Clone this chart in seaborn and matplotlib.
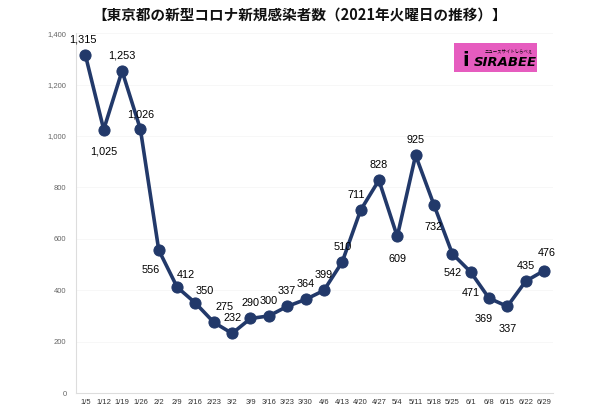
import numpy as np
import pandas as pd
import seaborn as sns
import matplotlib.pyplot as plt
from matplotlib.patches import Rectangle

# data
dates = ["1/5", "1/12", "1/19", "1/26", "2/2", "2/9", "2/16", "2/23", "3/2",
         "3/9", "3/16", "3/23", "3/30", "4/6", "4/13", "4/20", "4/27", "5/4",
         "5/11", "5/18", "5/25", "6/1", "6/8", "6/15", "6/22", "6/29"]
cases = [1315, 1025, 1253, 1026, 556, 412, 350, 275, 232,
         290, 300, 337, 364, 399, 510, 711, 828, 609,
         925, 732, 542, 471, 369, 337, 435, 476]
# label placement (offset in points) for each point
label_pos = [(-2, 11), (0, -16), (0, 11), (0, 11), (-6, -14), (6, 9), (7, 9), (8, 11), (0, 11),
             (0, 11), (0, 11), (0, 11), (0, 11), (0, 11), (0, 11), (-3, 11), (0, 11), (0, -16),
             (0, 11), (0, -16), (0, -14), (0, -15), (-4, -15), (0, -16), (0, 11), (2, 13)]

sns.set_style("white")
plt.rcParams['font.family'] = ['Noto Sans CJK JP', 'DejaVu Sans']

df = pd.DataFrame({"idx": np.arange(len(dates)), "cases": cases})

fig = plt.figure(figsize=(6, 4.09), dpi=100)
ax = fig.add_axes([0.127, 0.039, 0.795, 0.880])

navy = "#22396a"
sns.lineplot(data=df, x="idx", y="cases", ax=ax, color=navy, linewidth=2.6,
             marker="o", markersize=8, markeredgecolor=navy, markerfacecolor=navy)

for i, v in enumerate(cases):
    dx, dy = label_pos[i]
    ax.annotate(f"{v:,}", (i, v), xytext=(dx, dy), textcoords="offset points",
                ha="center", va="center", fontsize=7.8, color="black",
                family=["Liberation Sans", "DejaVu Sans"])

ax.set_ylim(0, 1400)
ax.set_yticks(range(0, 1401, 200))
ax.set_yticklabels([f"{t:,}" for t in range(0, 1401, 200)], fontsize=5.5,
                   color="#666666", family=["Liberation Sans"])
ax.set_xlim(-0.5, len(dates) - 0.5)
ax.set_xticks(range(len(dates)))
ax.set_xticklabels(dates, fontsize=5.5, color="#333333", family=["Liberation Sans"])
ax.tick_params(axis="y", length=0, pad=7)
ax.tick_params(axis="x", length=0, pad=4)
ax.set_xlabel("")
ax.set_ylabel("")
ax.yaxis.grid(True, color="#f6f6f6", linewidth=0.6)
for s in ["top", "right"]:
    ax.spines[s].set_visible(False)
for s in ["left", "bottom"]:
    ax.spines[s].set_color("#dddddd")
    ax.spines[s].set_linewidth(0.8)

fig.text(0.5, 0.962, "【東京都の新型コロナ新規感染者数（2021年火曜日の推移）】",
         ha="center", va="center", fontsize=10.5, fontweight="bold", color="#111111")

# logo box
fig.patches.append(Rectangle((0.757, 0.824), 0.138, 0.071, transform=fig.transFigure,
                             facecolor="#e65cbf", edgecolor="none"))
fig.text(0.776, 0.853, "i", fontsize=14, fontweight="bold", color="black",
         ha="center", va="center", family=["DejaVu Sans"])
fig.text(0.842, 0.848, "SIRABEE", fontsize=9.5, fontweight="bold", style="italic",
         color="black", ha="center", va="center", family=["DejaVu Sans"])
fig.text(0.848, 0.876, "ニュースサイトしらべぇ", fontsize=3.2, color="black",
         ha="center", va="center")

fig.savefig("out.png", dpi=100)
